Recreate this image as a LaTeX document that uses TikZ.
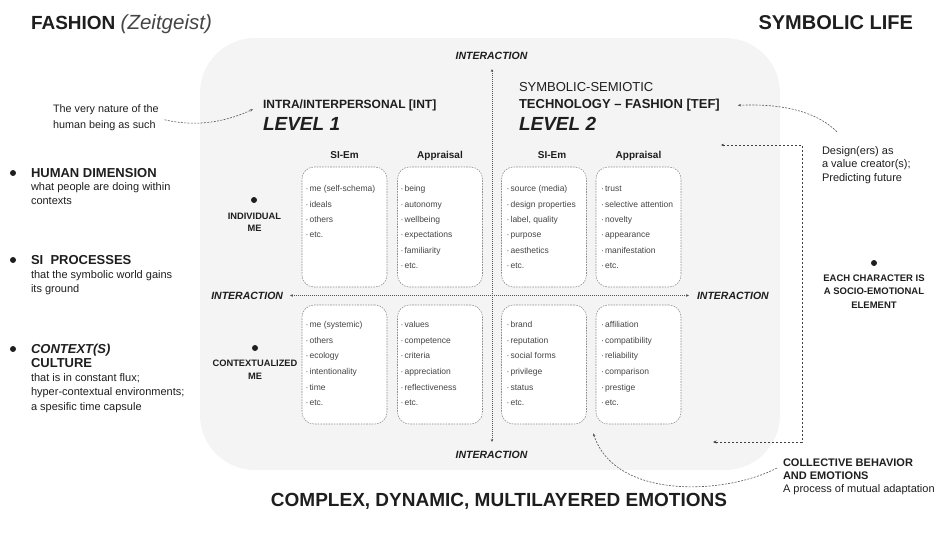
\documentclass[tikz,border=0pt]{standalone}
\usepackage{fontspec}
\setmainfont{Liberation Sans}
\usetikzlibrary{arrows.meta}
\definecolor{ink}{HTML}{1E1E1E}
\definecolor{soft}{HTML}{454545}
\definecolor{panelgrey}{HTML}{F4F4F4}
\definecolor{edge}{HTML}{8C8C8C}
\definecolor{axiscol}{HTML}{555555}
\begin{document}
\begin{tikzpicture}[x=1pt,y=-1pt,
  txt/.style={inner sep=0pt, outer sep=0pt, text=ink},
  itembox/.style={draw=edge, dash pattern=on 1.6pt off 1.1pt, line width=0.55pt, fill=white, rounded corners=12pt, minimum width=85pt, inner sep=0pt},
  itemtxt/.style={txt, text=soft, font=\fontsize{8.5}{10}\selectfont, anchor=mid west},
  colhead/.style={txt, font=\fontsize{10}{12}\selectfont\bfseries, anchor=base},
  inter/.style={txt, font=\fontsize{10.5}{12}\selectfont\bfseries\itshape},
  axisline/.style={draw=axiscol, line width=0.6pt, dash pattern=on 0.9pt off 1.1pt, {Stealth[length=3pt,width=2.6pt]}-{Stealth[length=3pt,width=2.6pt]}},
  bracket/.style={draw=ink!85, line width=0.7pt, dash pattern=on 2.6pt off 1.4pt, {Stealth[length=3pt,width=2.6pt]}-{Stealth[length=3.5pt,width=3pt]}},
  curvy/.style={draw=gray!70!black, line width=0.6pt, dash pattern=on 2pt off 1.3pt, -{Stealth[length=3.2pt,width=2.6pt]}},
  blackdot/.style={circle, fill=ink, inner sep=0pt, minimum size=6pt},
]
\useasboundingbox (0,0) rectangle (939,536);

% background panel
\node[fill=panelgrey, rounded corners=55pt, minimum width=580pt, minimum height=432pt, inner sep=0pt] (panel) at (490,254) {};

% titles
\node[txt, anchor=base west, font=\fontsize{19}{22}\selectfont] (fashion) at (31,29.8) {\bfseries FASHION {\mdseries\itshape\fontsize{20.5}{22}\selectfont\color{soft}(Zeitgeist)}};
\node[txt, anchor=base east, font=\fontsize{20}{24}\selectfont\bfseries] (symlife) at (913,29.7) {SYMBOLIC LIFE};
\node[txt, anchor=base, font=\fontsize{19}{22}\selectfont\bfseries] (complex) at (499,506.8) {COMPLEX, DYNAMIC, MULTILAYERED EMOTIONS};

% left column
\node[blackdot] (d1) at (13,173) {};
\node[txt, anchor=base west, font=\fontsize{13}{14}\selectfont\bfseries] (hum) at (31,177.7) {HUMAN DIMENSION};
\node[txt, anchor=north west, align=left, font=\fontsize{11}{14}\selectfont] (humsub) at (31,183) {what people are doing within\\contexts};

\node[blackdot] (d2) at (13,260) {};
\node[txt, anchor=base west, font=\fontsize{13}{14}\selectfont\bfseries] (sip) at (31,264.7) {SI\ \ PROCESSES};
\node[txt, anchor=north west, align=left, font=\fontsize{11}{14}\selectfont] (sipsub) at (31,271) {that the symbolic world gains\\its ground};

\node[blackdot] (d3) at (13,349) {};
\node[txt, anchor=north west, align=left, font=\fontsize{13}{14}\selectfont\bfseries] (ctx) at (31,344.2) {{\itshape CONTEXT(S)}\\CULTURE};
\node[txt, anchor=north west, align=left, font=\fontsize{11}{14.5}\selectfont] (ctxsub) at (31,373.5) {that is in constant flux;\\hyper-contextual environments;\\a spesific time capsule};

\node[txt, anchor=north west, align=left, font=\fontsize{10.8}{15.5}\selectfont] (nat) at (53,105) {The very nature of the\\human being as such};

% level headings
\node[txt, anchor=base west, font=\fontsize{12}{14}\selectfont\bfseries] (intra) at (263,108.3) {INTRA/INTERPERSONAL [INT]};
\node[txt, anchor=base west, font=\fontsize{19}{22}\selectfont\bfseries\itshape] (lev1) at (263,130.8) {LEVEL 1};
\node[txt, anchor=base west, font=\fontsize{13}{15}\selectfont] (sem) at (519,91.7) {SYMBOLIC-SEMIOTIC};
\node[txt, anchor=base west, font=\fontsize{13}{15}\selectfont\bfseries] (tef) at (519,108.7) {TECHNOLOGY – FASHION [TEF]};
\node[txt, anchor=base west, font=\fontsize{19}{22}\selectfont\bfseries\itshape] (lev2) at (519,130.8) {LEVEL 2};

% right column
\node[txt, anchor=north west, align=left, font=\fontsize{11}{13.2}\selectfont] (design) at (822,146.8) {Design(ers) as\\a value creator(s);\\Predicting future};
\node[blackdot] (d4) at (874,263) {};
\node[txt, anchor=north, align=center, font=\fontsize{9.5}{13.5}\selectfont\bfseries] (each) at (874,274.6) {EACH CHARACTER IS\\A SOCIO-EMOTIONAL\\ELEMENT};
\node[txt, anchor=north west, align=left, font=\fontsize{11}{13}\selectfont] (coll) at (783,459) {{\bfseries COLLECTIVE BEHAVIOR}\\{\bfseries AND EMOTIONS}\\A process of mutual adaptation};

% row labels
\node[blackdot] (d5) at (254,200) {};
\node[txt, anchor=north, align=center, font=\fontsize{9.3}{12}\selectfont\bfseries] (indiv) at (254.5,212.7) {INDIVIDUAL\\ME};
\node[blackdot] (d6) at (255,348) {};
\node[txt, anchor=north, align=center, font=\fontsize{9.3}{13}\selectfont\bfseries] (contx) at (255,359.7) {CONTEXTUALIZED\\ME};

% column headers
\node[colhead] (h1) at (344.5,158.6) {SI-Em};
\node[colhead] (h2) at (440,158.6) {Appraisal};
\node[colhead] (h3) at (552,158.6) {SI-Em};
\node[colhead] (h4) at (638.5,158.6) {Appraisal};

% axes
\coordinate (vt) at (492,69);
\coordinate (vb) at (492,442);
\coordinate (hl) at (290,295.5);
\coordinate (hr) at (689,295.5);
\draw[axisline] (vt) -- (vb);
\draw[axisline] (hl) -- (hr);
\node[inter, anchor=base] (itop) at (491.5,59.8) {INTERACTION};
\node[inter, anchor=base] (ibot) at (491.5,458.8) {INTERACTION};
\node[inter, anchor=base east] (ileft) at (283,299.3) {INTERACTION};
\node[inter, anchor=base west] (iright) at (697,299.3) {INTERACTION};

% boxes
\node[itembox, minimum height=120pt] (u1) at (344.5,227) {};
\node[itembox, minimum height=120pt] (u2) at (440,227) {};
\node[itembox, minimum height=120pt] (u3) at (544,227) {};
\node[itembox, minimum height=120pt] (u4) at (638.5,227) {};
\node[itembox, minimum height=119pt] (l1) at (344.5,364.5) {};
\node[itembox, minimum height=119pt] (l2) at (440,364.5) {};
\node[itembox, minimum height=119pt] (l3) at (544,364.5) {};
\node[itembox, minimum height=119pt] (l4) at (638.5,364.5) {};

% items
\foreach \t [count=\i] in {me (self-schema), ideals, others, etc.}
  \node[itemtxt] (u1i\i) at (305.5,{189+15.4*(\i-1)}) {·\hspace{1.3pt}\t};
\foreach \t [count=\i] in {being, autonomy, wellbeing, expectations, familiarity, etc.}
  \node[itemtxt] (u2i\i) at (400.5,{189+15.4*(\i-1)}) {·\hspace{1.3pt}\t};
\foreach \t [count=\i] in {source (media), design properties, {label, quality}, purpose, aesthetics, etc.}
  \node[itemtxt] (u3i\i) at (506.5,{189+15.4*(\i-1)}) {·\hspace{1.3pt}\t};
\foreach \t [count=\i] in {trust, selective attention, novelty, appearance, manifestation, etc.}
  \node[itemtxt] (u4i\i) at (601,{189+15.4*(\i-1)}) {·\hspace{1.3pt}\t};
\foreach \t [count=\i] in {me (systemic), others, ecology, intentionality, time, etc.}
  \node[itemtxt] (l1i\i) at (305.5,{325+15.6*(\i-1)}) {·\hspace{1.3pt}\t};
\foreach \t [count=\i] in {values, competence, criteria, appreciation, reflectiveness, etc.}
  \node[itemtxt] (l2i\i) at (400.5,{325+15.6*(\i-1)}) {·\hspace{1.3pt}\t};
\foreach \t [count=\i] in {brand, reputation, social forms, privilege, status, etc.}
  \node[itemtxt] (l3i\i) at (506.5,{325+15.6*(\i-1)}) {·\hspace{1.3pt}\t};
\foreach \t [count=\i] in {affiliation, compatibility, reliability, comparison, prestige, etc.}
  \node[itemtxt] (l4i\i) at (601,{325+15.6*(\i-1)}) {·\hspace{1.3pt}\t};

% right bracket connector
\coordinate (bk1) at (721,145);
\coordinate (bk2) at (802,145);
\coordinate (bk3) at (802,442);
\coordinate (bk4) at (713,442);
\draw[bracket] (bk1) -- (bk2) -- (bk3) -- (bk4);

% curved annotations
\draw[curvy] ([shift={(6,2)}]nat.east) .. controls (200,128) and (230,120) .. ([shift={(-10,4)}]intra.west);
\draw[curvy] ([shift={(15,-15)}]design.north west) .. controls (820,115) and (790,103) .. ([shift={(18,0)}]tef.east);
\draw[curvy] ([shift={(-6,9)}]coll.north west) .. controls (725,495) and (615,500) .. ([shift={(6.5,9)}]l3.south east);
\end{tikzpicture}
\end{document}
